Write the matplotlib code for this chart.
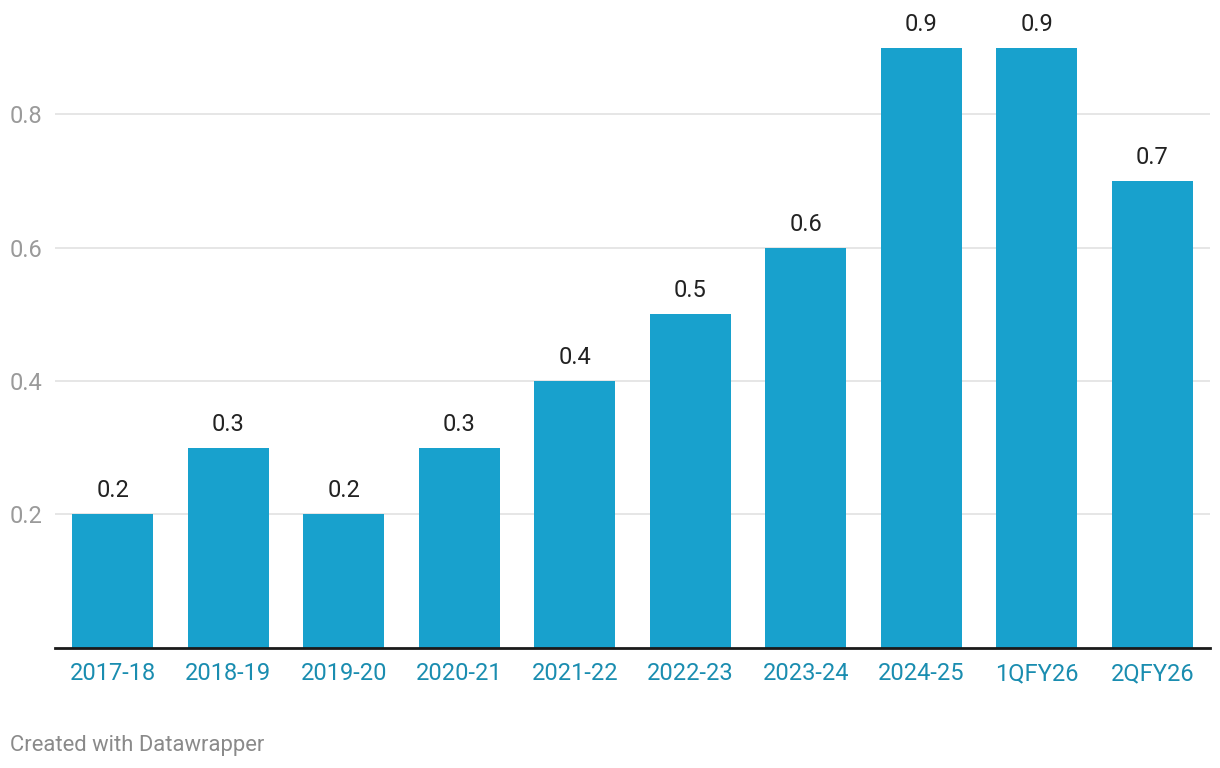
import matplotlib
matplotlib.use("Agg")
import matplotlib.pyplot as plt

plt.rcParams['font.family'] = ['Roboto', 'DejaVu Sans']

periods = ["2017-18", "2018-19", "2019-20", "2020-21", "2021-22",
           "2022-23", "2023-24", "2024-25", "1QFY26", "2QFY26"]
values = [0.2, 0.3, 0.2, 0.3, 0.4, 0.5, 0.6, 0.9, 0.9, 0.7]
y_ticks = [0.2, 0.4, 0.6, 0.8]

fig = plt.figure(figsize=(12.2, 7.68), dpi=100)
ax = fig.add_axes([55 / 1220, 1 - 647.5 / 768, 1155 / 1220, 647.5 / 768])

x = range(len(periods))
ax.bar(x, values, width=0.7, color='#18a1cd', zorder=2)
for xi, v in zip(x, values):
    ax.text(xi, v + 0.018, f"{v:.1f}", ha='center', va='bottom',
            fontsize=17, color='#222222')

ax.set_xlim(-0.5, len(periods) - 0.5)
ax.set_ylim(0, 0.9714)
ax.set_yticks(y_ticks)
ax.set_yticklabels([f"{t:.1f}" for t in y_ticks])
ax.set_xticks(list(x))
ax.set_xticklabels(periods)

ax.grid(axis='y', color='#e2e2e2', linewidth=1.2, zorder=0)
for s in ['top', 'right', 'left']:
    ax.spines[s].set_visible(False)
ax.spines['bottom'].set_color('#1a1a1a')
ax.spines['bottom'].set_linewidth(2)
ax.spines['bottom'].set_zorder(3)

ax.tick_params(axis='y', length=0, pad=9, labelsize=17, labelcolor='#9a9a9a')
ax.tick_params(axis='x', length=0, pad=10.5, labelsize=17, labelcolor='#1a8db0')
for lab in ax.get_yticklabels():
    lab.set_horizontalalignment('right')

fig.text(10 / 1220, 1 - 745 / 768, "Created with Datawrapper", ha='left', va='center',
         fontsize=15.8, color='#8a8a8a')

fig.savefig("out.png", dpi=100)
